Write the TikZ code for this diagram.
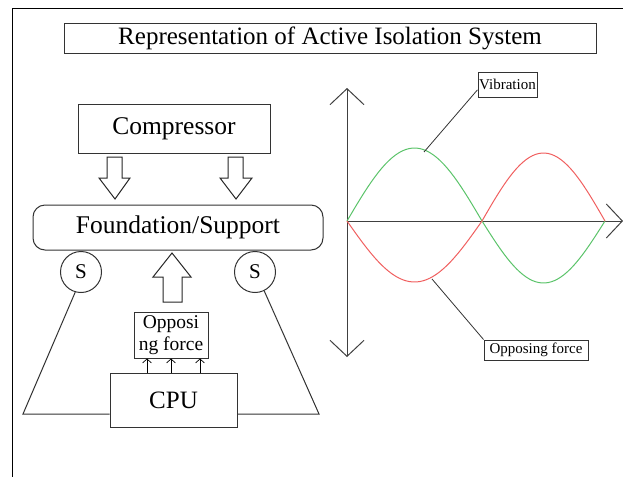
\documentclass[tikz,border=0pt]{standalone}
\usepackage{fontspec}
\setmainfont{Liberation Serif}
\usepackage{tikz}
\usetikzlibrary{arrows.meta,%
                shapes,positioning}
\definecolor{vibgreen}{RGB}{90,195,105}
\definecolor{oppred}{RGB}{240,95,95}
\tikzset{box/.style={draw=black!80,line width=1pt,inner sep=0pt},
         blockarrow/.style={draw=black!85,line width=1pt,fill=white},
         axis/.style={draw=black!75,line width=1pt,-{Straight Barb[length=16pt,width=34pt]}}}

\begin{document}
\begin{tikzpicture}[x=1pt,y=-1pt,line width=1pt]
\useasboundingbox (0,0) rectangle (623,477);
\draw (623,8) -- (12,8) -- (12,477);
\node[box,minimum width=532pt,minimum height=30pt,font=\fontsize{25}{29}\selectfont] (title) at (330,38) {Representation of Active Isolation System};
% left block diagram
\node[box,minimum width=192pt,minimum height=49pt,font=\fontsize{25.5}{29}\selectfont] (comp) at (174,128.5) {Compressor};
\node[box,rounded corners=12pt,minimum width=290pt,minimum height=45pt,font=\fontsize{25.5}{29}\selectfont] (found) at (178,227.5) {Foundation/Support};
\node[box,circle,minimum size=41pt,font=\fontsize{21}{24}\selectfont] (sl) at (81,272) {S};
\node[box,circle,minimum size=41pt,font=\fontsize{21}{24}\selectfont] (sr) at (255,272) {S};
\node[box,minimum width=74pt,minimum height=46pt,align=center,font=\fontsize{19.5}{22}\selectfont] (opp) at (171,335) {Opposi\\ng force};
\node[box,minimum width=127pt,minimum height=54pt,font=\fontsize{25}{29}\selectfont] (cpu) at (173.5,400) {CPU};
\draw[blockarrow] (107,157) -- (122,157) -- (122,178) -- (130,178) -- (115,199) -- (99,178) -- (107,178) -- cycle;
\draw[blockarrow] (228,157) -- (243,157) -- (243,178) -- (252,178) -- (236,199) -- (220,178) -- (228,178) -- cycle;
\draw[blockarrow] (163,302) -- (182,302) -- (182,277) -- (191,277) -- (172,253) -- (153,277) -- (163,277) -- cycle;
\foreach \x in {147,171,200}
  \draw[-{Straight Barb[length=4pt,width=9pt]},line width=0.7pt] (\x,373) -- (\x,358.5);
\coordinate (bl) at (23,414);
\coordinate (br) at (319,414);
\draw[black!80] (sl.-106) -- (bl) -- (bl -| cpu.west);
\draw[black!80] (sr.-64) -- (br) -- (br -| cpu.east);
% right graph
\coordinate (O) at (347,221);
\draw[axis] (O) -- (347,88);
\draw[axis] (O) -- (347,357);
\draw[axis] (O) -- (623,221);
\draw[vibgreen] plot[domain=0:180,samples=40] ({347+0.75*\x},{221-73*sin(\x)})
                -- plot[domain=0:180,samples=40] ({482+0.6833*\x},{221+62*sin(\x)});
\draw[oppred] plot[domain=0:180,samples=40] ({347+0.75*\x},{221+61*sin(\x)})
              -- plot[domain=0:180,samples=40] ({482+0.6833*\x},{221-68*sin(\x)});
\node[box,minimum width=59pt,minimum height=25pt,font=\fontsize{15}{18}\selectfont] (vib) at (507.5,84.5) {Vibration};
\node[box,minimum width=104pt,minimum height=20pt,font=\fontsize{15}{18}\selectfont] (of) at (536,350) {Opposing force};
\coordinate (vp) at (424,152);
\coordinate (op) at (432,279);
\draw[black!80,line width=0.8pt] (vib.190) -- (vp);
\draw[black!80,line width=0.8pt] (of.north west) -- (op);
\end{tikzpicture}
\end{document}
